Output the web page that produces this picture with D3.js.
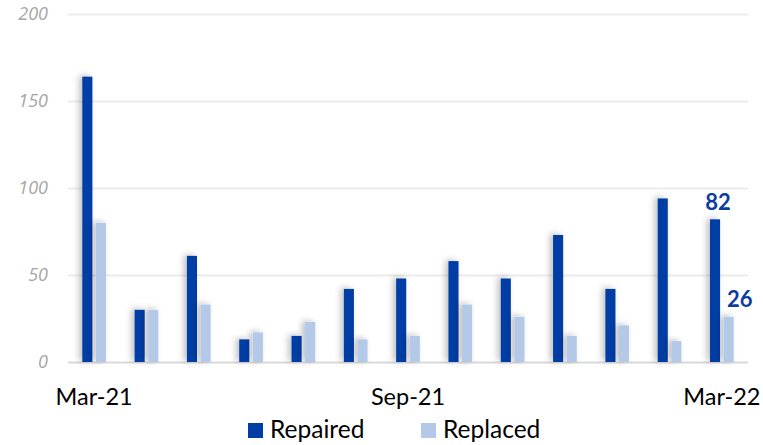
<!DOCTYPE html>
<html><head><meta charset="utf-8">
<script src="https://cdn.jsdelivr.net/npm/d3@7"></script>
<style>body{margin:0;background:#fff}svg{display:block}</style>
</head><body>
<script>
const categories = ["Mar-21","Apr-21","May-21","Jun-21","Jul-21","Aug-21","Sep-21","Oct-21","Nov-21","Dec-21","Jan-22","Feb-22","Mar-22"];
const repaired = [164,30,61,13,15,42,48,58,48,73,42,94,82];
const replaced = [80,30,33,17,23,13,15,33,26,15,21,12,26];
const xTickLabels = ["Mar-21","Sep-21","Mar-22"];
const yTicks = [0,50,100,150,200];
const seriesNames = ["Repaired","Replaced"];
const colors = ["#003DA5","#B4C9E8"];

const W=763,H=445;
const svg=d3.select("body").append("svg").attr("width",W).attr("height",H);
const defs=svg.append("defs");
const f=defs.append("filter").attr("id","sh").attr("x","-100%").attr("y","-20%").attr("width","300%").attr("height","140%");
f.append("feDropShadow").attr("dx",-3).attr("dy",-1).attr("stdDeviation",3).attr("flood-color","#000").attr("flood-opacity",0.25);

const x=d3.scaleBand().domain(categories).range([68,748]).paddingInner(0).paddingOuter(0);
const y=d3.scaleLinear().domain([0,200]).range([362,14]);
const inner=d3.scaleBand().domain(seriesNames).range([0,x.bandwidth()]).paddingInner(0.26).paddingOuter(1.05);

// gridlines
const yAxis=d3.axisLeft(y).tickValues(yTicks).tickSize(-(680)).tickPadding(20);
const gy=svg.append("g").attr("transform","translate(68,0)").call(yAxis);
gy.select(".domain").remove();
gy.selectAll(".tick line").attr("stroke",d=>d===0?"#d9d9d9":"#ececec").attr("stroke-width",2);
gy.selectAll(".tick text").attr("fill","#a6a6a6").attr("font-family","'Open Sans', 'DejaVu Sans', sans-serif").attr("font-style","italic").attr("font-size",18);

// bars
const data=categories.map((c,i)=>({c,vals:[repaired[i],replaced[i]]}));
const groups=svg.append("g").selectAll("g").data(data).join("g").attr("transform",d=>`translate(${x(d.c)},0)`);
groups.selectAll("rect").data(d=>d.vals.map((v,j)=>({v,s:seriesNames[j],j}))).join("rect")
  .attr("x",d=>inner(d.s)).attr("width",inner.bandwidth())
  .attr("y",d=>y(d.v)).attr("height",d=>y(0)-y(d.v))
  .attr("fill",d=>colors[d.j]).attr("filter","url(#sh)");

// x axis labels
const xAxis=d3.axisBottom(x).tickValues(xTickLabels).tickSize(0).tickPadding(26);
const gx=svg.append("g").attr("transform","translate(0,362)").call(xAxis);
gx.select(".domain").remove();
gx.selectAll(".tick text").attr("fill","#000").attr("font-family","Lato, 'Open Sans', sans-serif").attr("font-size",23.5);

// value labels on last group
const last=categories.length-1;
svg.append("text").attr("x",x(categories[last])+inner("Repaired")+inner.bandwidth()/2+3).attr("y",y(repaired[last])-9)
  .attr("text-anchor","middle").attr("fill","#0A3D9C").attr("font-family","Lato, sans-serif").attr("font-weight","bold").attr("font-size",22).text(repaired[last]);
svg.append("text").attr("x",x(categories[last])+inner("Replaced")+inner.bandwidth()/2+11).attr("y",y(replaced[last])-10)
  .attr("text-anchor","middle").attr("fill","#0A3D9C").attr("font-family","Lato, sans-serif").attr("font-weight","bold").attr("font-size",22).text(replaced[last]);

// legend
const leg=svg.append("g");
const lx=[248,421];
seriesNames.forEach((n,i)=>{
  leg.append("rect").attr("x",lx[i]).attr("y",423).attr("width",15).attr("height",15).attr("fill",colors[i]);
  leg.append("text").attr("x",lx[i]+22).attr("y",438).attr("font-family","Lato, 'Open Sans', sans-serif").attr("font-size",24.5).attr("fill","#000").text(n);
});
</script>
</body></html>
